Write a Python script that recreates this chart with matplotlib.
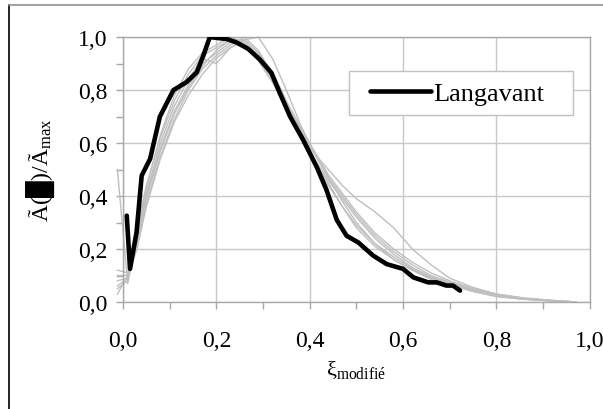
import matplotlib
matplotlib.use('Agg')
import matplotlib.pyplot as plt
from matplotlib.lines import Line2D
from matplotlib.patches import Rectangle
from matplotlib.ticker import MultipleLocator

plt.rcParams['font.family'] = ['Liberation Serif', 'DejaVu Sans']
plt.rcParams['mathtext.default'] = 'regular'

# %% data
lang_x = [0.008, 0.015, 0.029, 0.040, 0.058, 0.079, 0.108, 0.136, 0.158, 0.172, 0.186,
          0.222, 0.243, 0.268, 0.293, 0.318, 0.336, 0.358, 0.386, 0.415, 0.436, 0.458,
          0.479, 0.504, 0.536, 0.565, 0.600, 0.622, 0.654, 0.672, 0.693, 0.707, 0.722]
lang_y = [0.326, 0.125, 0.263, 0.477, 0.540, 0.700, 0.800, 0.830, 0.867, 0.930, 1.000,
          0.993, 0.980, 0.956, 0.916, 0.865, 0.789, 0.700, 0.612, 0.510, 0.423, 0.310,
          0.250, 0.225, 0.175, 0.143, 0.125, 0.093, 0.074, 0.074, 0.062, 0.062, 0.043]

gx = [-0.012, 0.01, 0.03, 0.05, 0.08, 0.11, 0.14, 0.17, 0.20, 0.23, 0.26, 0.29, 0.32,
      0.35, 0.38, 0.41, 0.44, 0.47, 0.50, 0.54, 0.58, 0.62, 0.66, 0.70, 0.75, 0.80,
      0.86, 0.92, 0.97]
g1 = [0.10, 0.10, 0.25, 0.40, 0.58, 0.72, 0.82, 0.90, 0.94, 0.98, 0.98, 0.93, 0.85,
      0.74, 0.63, 0.54, 0.46, 0.39, 0.32, 0.24, 0.18, 0.13, 0.095, 0.07, 0.045, 0.025,
      0.012, 0.005, 0.0]
g2 = [0.05, 0.08, 0.28, 0.44, 0.62, 0.76, 0.86, 0.93, 0.96, 0.99, 0.97, 0.91, 0.83,
      0.73, 0.64, 0.56, 0.47, 0.38, 0.30, 0.22, 0.16, 0.12, 0.09, 0.065, 0.04, 0.022,
      0.010, 0.004, 0.0]
g3 = [0.08, 0.09, 0.22, 0.37, 0.55, 0.69, 0.80, 0.88, 0.93, 0.97, 1.00, 0.95, 0.86,
      0.75, 0.65, 0.56, 0.50, 0.44, 0.39, 0.34, 0.28, 0.20, 0.14, 0.09, 0.055, 0.03,
      0.014, 0.006, 0.0]
g4 = [0.50, 0.07, 0.24, 0.41, 0.60, 0.74, 0.84, 0.92, 0.90, 0.96, 0.99, 0.94, 0.84,
      0.72, 0.62, 0.53, 0.45, 0.36, 0.28, 0.21, 0.16, 0.12, 0.085, 0.065, 0.04, 0.02,
      0.010, 0.004, 0.0]
g5 = [0.03, 0.10, 0.20, 0.36, 0.54, 0.68, 0.78, 0.86, 0.92, 0.96, 0.99, 1.00, 0.92,
      0.80, 0.67, 0.56, 0.47, 0.40, 0.33, 0.25, 0.19, 0.14, 0.10, 0.075, 0.048, 0.028,
      0.013, 0.005, 0.0]
g6 = [0.12, 0.11, 0.26, 0.43, 0.63, 0.78, 0.88, 0.94, 0.97, 1.00, 0.98, 0.92, 0.84,
      0.73, 0.62, 0.52, 0.44, 0.36, 0.29, 0.22, 0.17, 0.125, 0.09, 0.065, 0.042, 0.024,
      0.011, 0.004, 0.0]
g7 = [0.06, 0.09, 0.23, 0.39, 0.57, 0.71, 0.81, 0.89, 0.95, 0.99, 0.99, 0.94, 0.87,
      0.76, 0.66, 0.57, 0.48, 0.41, 0.34, 0.26, 0.20, 0.15, 0.11, 0.08, 0.05, 0.03,
      0.015, 0.006, 0.0]
gray_curves = [g1, g2, g3, g4, g5, g6, g7]

legend_label = 'Langavant'
x_ticks = [0.0, 0.2, 0.4, 0.6, 0.8, 1.0]
y_ticks = [0.0, 0.2, 0.4, 0.6, 0.8, 1.0]

# %% figure
fig = plt.figure(figsize=(6.03, 4.10), dpi=100)
ax = fig.add_axes([0.204, 0.261, 0.774, 0.646])

for g in gray_curves:
    ax.plot(gx, g, color='#bfbfbf', lw=1.0, clip_on=False, zorder=2)
ax.plot(lang_x, lang_y, color='black', lw=3.3, solid_capstyle='round',
        solid_joinstyle='round', label=legend_label, zorder=3)

ax.set_xlim(0, 1)
ax.set_ylim(0, 1)
ax.set_xticks(x_ticks)
ax.set_yticks(y_ticks)
ax.xaxis.set_minor_locator(MultipleLocator(0.1))
ax.yaxis.set_minor_locator(MultipleLocator(0.1))
fmt = lambda v, p: ('%.1f' % v).replace('.', ',')
ax.xaxis.set_major_formatter(plt.FuncFormatter(fmt))
ax.yaxis.set_major_formatter(plt.FuncFormatter(fmt))
ax.grid(True, which='major', color='#c8c8c8', lw=1.0, zorder=1)
ax.set_axisbelow(True)
for s in ax.spines.values():
    s.set_color('#a8a8a8')
    s.set_linewidth(1.0)
ax.tick_params(which='both', direction='out', color='#a8a8a8', length=5, width=1.0,
               labelsize=17)
ax.tick_params(axis='x', which='major', pad=15)
ax.tick_params(axis='y', which='major', pad=6)

ax.set_ylabel('Ã(█)/Ã$_{max}$', fontsize=17, labelpad=15)
ax.set_xlabel('ξ$_{modifié}$', fontsize=16, labelpad=5)

# legend: frame drawn separately so the padding matches
box = Rectangle((0.484, 0.706), 0.48, 0.166, transform=ax.transAxes,
                facecolor='white', edgecolor='#c0c0c0', lw=1.0, zorder=4)
ax.add_patch(box)
leg = ax.legend(loc='center left', bbox_to_anchor=(0.53, 0.789), fontsize=19,
                handlelength=2.3, handletextpad=0.1, borderpad=0.0,
                borderaxespad=0.0, frameon=False)
leg.set_zorder(5)

# chart area border (only left and top visible)
fig.add_artist(Line2D([9 / 603, 9 / 603], [1 - 6 / 410, 0], color='black', lw=1.2))
fig.add_artist(Line2D([9 / 603, 1], [1 - 6 / 410, 1 - 6 / 410], color='#909090', lw=1.2))

fig.savefig('out.png', dpi=100)
